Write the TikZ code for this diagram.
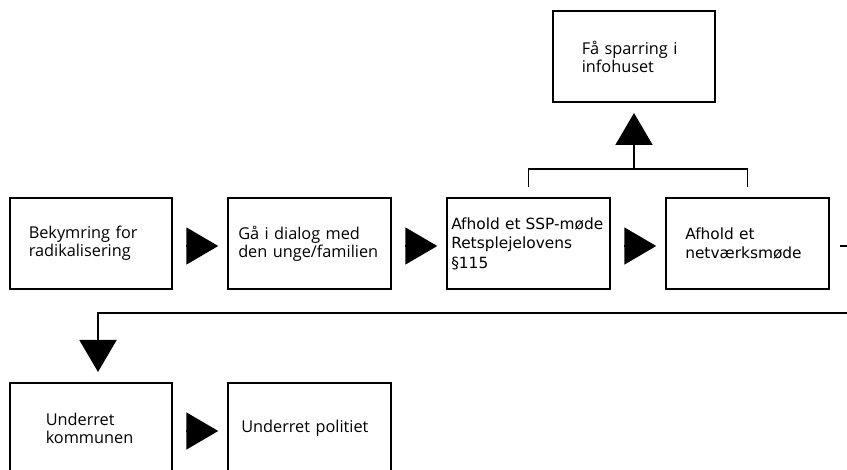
\documentclass[tikz,border=0pt]{standalone}
\usepackage{fontspec}
\usepackage{tikz}
\usetikzlibrary{arrows.meta}
\newfontfamily\opensans{Open Sans}
\newfontfamily\verasans{DejaVu Sans}
\newcommand{\bw}{162.5}
\newcommand{\flowbox}[6]{\pgfmathsetmacro{\tw}{\bw-2*#4}\node[flow, #5, inner xsep=#4pt, text width=\tw pt] (#1) at (#2,#3) {#6};}
\tikzset{
  flow/.style={draw, line width=1.8pt, outer sep=0pt, inner ysep=0pt, minimum width=\bw pt, minimum height=91pt, align=left},
  osans/.style={font=\fontsize{16.3}{18}\opensans},
  vera/.style={font=\fontsize{15.4}{19.5}\verasans},
  link/.style={line width=1.8pt},
  bigtip/.style={line width=1.8pt, -{Triangle[length=32pt,width=37pt]}}
}

\begin{document}
\begin{tikzpicture}[x=1pt,y=-1pt]
    \clip (0,0) rectangle (847,470);

    \flowbox{b1}{91}{243.5}{19}{osans}{Bekymring for\\radikalisering}
    \flowbox{b2}{309.5}{243.5}{10}{osans}{Gå i dialog med\\den unge/familien}
    \flowbox{b3}{528.5}{243.5}{4}{vera}{Afhold et SSP-møde\\Retsplejelovens\\§115}
    \flowbox{b4}{747.5}{243.5}{19}{vera}{Afhold et\\netværksmøde}
    \flowbox{info}{634}{56.5}{29}{osans}{Få sparring i\\infohuset}
    \flowbox{b5}{91}{428.5}{36}{osans}{Underret\\kommunen}
    \flowbox{b6}{309.5}{428.5}{13}{osans}{Underret politiet}

    \foreach \a/\b in {b1/b2, b2/b3, b3/b4, b5/b6}
        \draw[bigtip, shorten <=14pt, shorten >=10pt] ([yshift=-2.5pt]\a.east) -- ([yshift=-2.5pt]\b.west);

    \coordinate (fork) at (634,169);
    \draw[link] ([yshift=11pt]b3.north) |- (fork) -| ([yshift=11pt]b4.north);
    \draw[bigtip, shorten >=11pt] (fork) -- (info.south);

    \coordinate (turn) at (98,313);
    \draw[bigtip, shorten <=11pt, shorten >=11pt] ([yshift=-2.5pt]b4.east) -- ++(30,0) |- (turn) -- (turn |- b5.north);
\end{tikzpicture}
\end{document}
